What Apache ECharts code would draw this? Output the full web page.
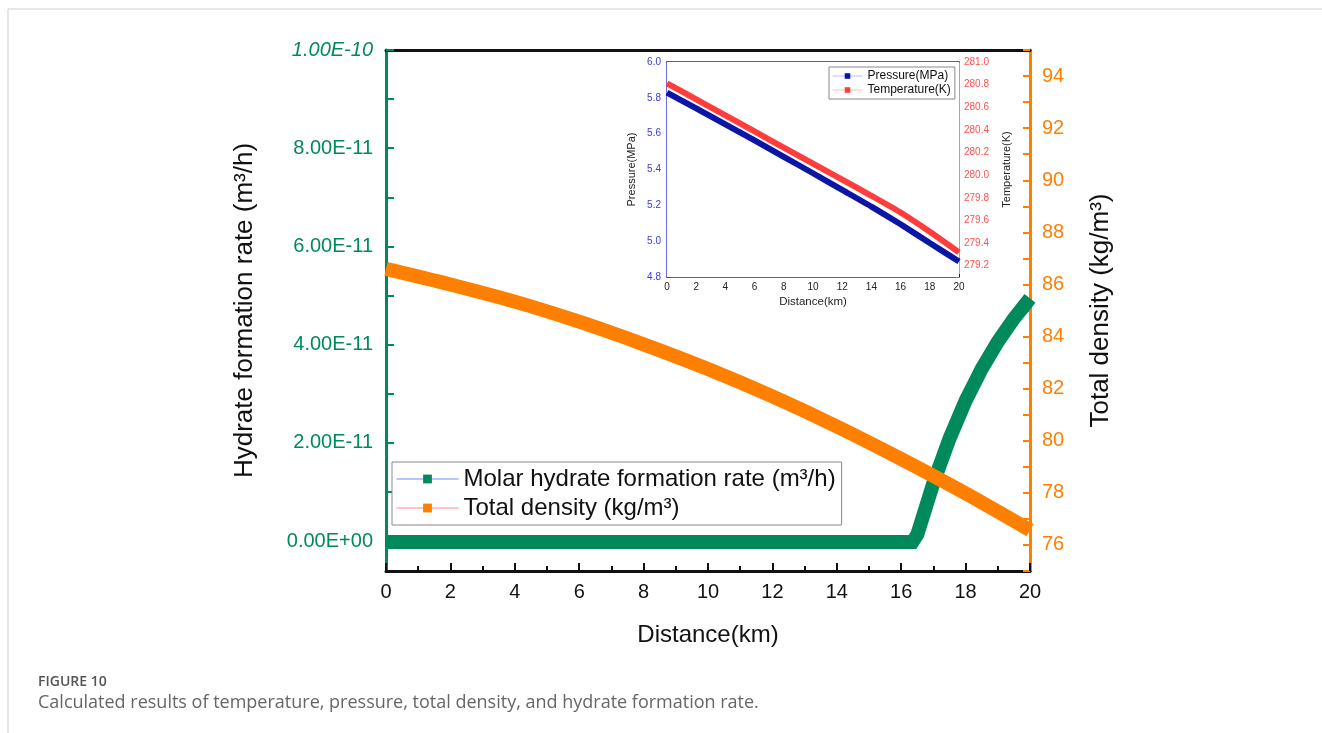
<!DOCTYPE html>
<html>
<head>
<meta charset="utf-8">
<script src="https://cdn.jsdelivr.net/npm/echarts@6/dist/echarts.min.js"></script>
<style>
  html, body { margin: 0; padding: 0; background: #fff; }
  #chart { width: 1322px; height: 733px; }
</style>
</head>
<body>
<div id="chart"></div>
<script>
var chartDom = document.getElementById('chart');
var myChart = echarts.init(chartDom);
var option;

// main chart: hydrate formation rate (m3/h) vs distance (km)
let rateDistance = [0, 16.35, 16.5, 17, 17.5, 18, 18.5, 19, 19.5, 20];
let rateValues = [0, 0, 0.15e-11, 1.2e-11, 2.1e-11, 2.87e-11, 3.52e-11, 4.07e-11, 4.54e-11, 4.95e-11];

// main chart: total density (kg/m3)
let densityDistance = [0, 2, 4, 6, 8, 10, 12, 14, 16, 18, 20];
let densityValues = [86.6, 86.0, 85.34, 84.57, 83.7, 82.75, 81.7, 80.55, 79.3, 77.98, 76.57];

// inset: pressure (MPa) and temperature (K)
let insetDistance = [0, 2, 4, 6, 8, 10, 12, 14, 16, 18, 20];
let pressureValues = [5.829, 5.741, 5.652, 5.562, 5.471, 5.379, 5.286, 5.193, 5.094, 4.99, 4.886];
let temperatureValues = [280.811, 280.67, 280.528, 280.386, 280.244, 280.102, 279.96, 279.818, 279.67, 279.5, 279.318];

let rateTickLabels = ['0.00E+00', '2.00E-11', '4.00E-11', '6.00E-11', '8.00E-11', '1.00E-10'];

function pairs(xs, ys) {
  return xs.map(function (x, i) { return [x, ys[i]]; });
}

const GREEN = '#008a5c';
const ORANGE = '#ff7f00';
const BLUE = '#0b16a6';
const RED = '#ff3d3d';
const FONT = 'Liberation Sans, Arial, sans-serif';

option = {
  backgroundColor: '#fff',
  animation: false,
  textStyle: { fontFamily: FONT },
  grid: [
    { left: 386, right: 292, top: 50, bottom: 162 },
    { left: 386, right: 292, top: 50, bottom: 192 },
    { left: 667, right: 363, top: 62, bottom: 456, show: true, backgroundColor: '#fff', borderWidth: 0, z: 5 }
  ],
  legend: [
    {
      orient: 'vertical', left: 392, top: 462, padding: [5, 6, 5, 4], itemGap: 5,
      itemWidth: 62, itemHeight: 11,
      borderColor: '#888', borderWidth: 1, backgroundColor: '#fff',
      textStyle: { fontSize: 24, color: '#111', fontFamily: FONT },
      data: [
        { name: 'Molar hydrate formation rate (m³/h)', itemStyle: { color: GREEN }, lineStyle: { color: '#6f8cff', width: 1 } },
        { name: 'Total density (kg/m³)', itemStyle: { color: ORANGE }, lineStyle: { color: '#ff8a8a', width: 1 } }
      ]
    },
    {
      orient: 'vertical', left: 829, top: 67, padding: [3, 4, 3, 3], itemGap: 2,
      itemWidth: 30, itemHeight: 7, z: 10,
      borderColor: '#888', borderWidth: 1, backgroundColor: '#fff',
      textStyle: { fontSize: 12, color: '#111', fontFamily: FONT },
      data: [
        { name: 'Pressure(MPa)', itemStyle: { color: BLUE }, lineStyle: { color: '#b4c2ff', width: 1 } },
        { name: 'Temperature(K)', itemStyle: { color: RED }, lineStyle: { color: '#ffbcbc', width: 1 } }
      ]
    }
  ],
  xAxis: [
    {
      type: 'value', gridIndex: 0, min: 0, max: 20, interval: 2,
      name: 'Distance(km)', nameLocation: 'middle', nameGap: 52,
      nameTextStyle: { fontSize: 24, color: '#111', fontFamily: FONT },
      axisLine: { onZero: false, lineStyle: { color: '#111', width: 3 } },
      axisTick: { inside: true, length: 8, lineStyle: { color: '#111', width: 2 } },
      minorTick: { show: true, splitNumber: 2, length: 5, lineStyle: { color: '#111', width: 2 } },
      axisLabel: { fontSize: 20, color: '#111', margin: 11 },
      splitLine: { show: false }
    },
    {
      type: 'value', gridIndex: 0, position: 'top', min: 0, max: 20,
      axisLine: { onZero: false, lineStyle: { color: '#111', width: 3 } },
      axisTick: { show: false }, axisLabel: { show: false }, splitLine: { show: false }
    },
    {
      type: 'value', gridIndex: 1, min: 0, max: 20, show: false
    },
    {
      type: 'value', gridIndex: 2, min: 0, max: 20, interval: 2,
      name: 'Distance(km)', nameLocation: 'middle', nameGap: 19,
      nameTextStyle: { fontSize: 11.5, color: '#222', fontFamily: FONT },
      axisLine: { onZero: false, lineStyle: { color: '#1a2a9a', width: 1.5 } },
      axisTick: { inside: true, length: 3, lineStyle: { color: '#222' } },
      minorTick: { show: true, splitNumber: 2, length: 2, lineStyle: { color: '#222' } },
      axisLabel: { fontSize: 10, color: '#222', margin: 5 },
      splitLine: { show: false }
    },
    {
      type: 'value', gridIndex: 2, position: 'top', min: 0, max: 20,
      axisLine: { onZero: false, lineStyle: { color: '#333', width: 1.5 } },
      axisTick: { show: false }, axisLabel: { show: false }, splitLine: { show: false }
    }
  ],
  yAxis: [
    {
      type: 'value', gridIndex: 0, min: -5.9e-12, max: 1e-10,
      name: 'Hydrate formation rate (m³/h)', nameLocation: 'middle', nameGap: 128, nameRotate: 90,
      nameTextStyle: { fontSize: 26, color: '#111', fontFamily: FONT },
      axisLine: { onZero: false, lineStyle: { color: GREEN, width: 3 } },
      axisTick: { show: false }, axisLabel: { show: false }, splitLine: { show: false }
    },
    {
      type: 'value', gridIndex: 0, position: 'right', min: 75, max: 95, interval: 1,
      name: 'Total density (kg/m³)', nameLocation: 'middle', nameGap: 58, nameRotate: 90,
      nameTextStyle: { fontSize: 26, color: '#111', fontFamily: FONT },
      axisLine: { onZero: false, lineStyle: { color: ORANGE, width: 3 } },
      axisTick: { inside: true, length: 7, lineStyle: { color: ORANGE, width: 2 } },
      axisLabel: {
        fontSize: 20, color: ORANGE, margin: 12,
        formatter: function (v) { return Math.round(v) % 2 === 0 ? String(Math.round(v)) : ''; }
      },
      splitLine: { show: false }
    },
    {
      type: 'value', gridIndex: 1, min: 0, max: 1e-10, interval: 2e-11,
      axisLine: { show: false },
      axisTick: { inside: true, length: 8, lineStyle: { color: GREEN, width: 2 } },
      minorTick: { show: true, splitNumber: 2, length: 8, lineStyle: { color: GREEN, width: 2 } },
      axisLabel: {
        fontSize: 20, color: GREEN, margin: 13,
        formatter: function (v) {
          let i = Math.round(v / 2e-11);
          return i === 5 ? '{it|' + rateTickLabels[i] + '}' : rateTickLabels[i];
        },
        rich: { it: { fontSize: 20, color: GREEN, fontStyle: 'italic', fontFamily: FONT } }
      },
      splitLine: { show: false }
    },
    {
      type: 'value', gridIndex: 2, min: 4.8, max: 6.0, interval: 0.2,
      name: 'Pressure(MPa)', nameLocation: 'middle', nameGap: 30, nameRotate: 90,
      nameTextStyle: { fontSize: 11, color: '#222', fontFamily: FONT },
      axisLine: { onZero: false, lineStyle: { color: '#3a3ad6', width: 1.5 } },
      axisTick: { inside: true, length: 3, lineStyle: { color: '#3a3ad6' } },
      minorTick: { show: true, splitNumber: 2, length: 2, lineStyle: { color: '#3a3ad6' } },
      axisLabel: { fontSize: 10, color: '#3a3ad6', margin: 6, formatter: function (v) { return v.toFixed(1); } },
      splitLine: { show: false }
    },
    {
      type: 'value', gridIndex: 2, position: 'right', min: 279.1, max: 281.0, interval: 0.1,
      name: 'Temperature(K)', nameLocation: 'middle', nameGap: 42, nameRotate: 90,
      nameTextStyle: { fontSize: 11, color: '#222', fontFamily: FONT },
      axisLine: { onZero: false, lineStyle: { color: '#ff5a5a', width: 1.5 } },
      axisTick: { inside: true, length: 3, lineStyle: { color: '#ff5a5a' } },
      axisLabel: {
        fontSize: 10, color: '#ff5050', margin: 5,
        formatter: function (v) { return Math.round(v * 10) % 2 === 0 ? v.toFixed(1) : ''; }
      },
      splitLine: { show: false }
    }
  ],
  series: [
    {
      name: 'Molar hydrate formation rate (m³/h)', type: 'line', xAxisIndex: 0, yAxisIndex: 0,
      data: pairs(rateDistance, rateValues), symbol: 'rect', symbolSize: 11, showSymbol: false,
      lineStyle: { color: GREEN, width: 14, join: 'miter' }, itemStyle: { color: GREEN }, z: 2
    },
    {
      name: 'Total density (kg/m³)', type: 'line', xAxisIndex: 0, yAxisIndex: 1,
      data: pairs(densityDistance, densityValues), symbol: 'rect', symbolSize: 11, showSymbol: false, smooth: 0.3,
      lineStyle: { color: ORANGE, width: 14 }, itemStyle: { color: ORANGE }, z: 3
    },
    {
      name: 'Pressure(MPa)', type: 'line', xAxisIndex: 3, yAxisIndex: 3,
      data: pairs(insetDistance, pressureValues), symbol: 'rect', symbolSize: 7, showSymbol: false, smooth: 0.2,
      lineStyle: { color: BLUE, width: 6 }, itemStyle: { color: BLUE }, z: 6
    },
    {
      name: 'Temperature(K)', type: 'line', xAxisIndex: 3, yAxisIndex: 4,
      data: pairs(insetDistance, temperatureValues), symbol: 'rect', symbolSize: 7, showSymbol: false, smooth: 0.2,
      lineStyle: { color: RED, width: 6 }, itemStyle: { color: RED }, z: 6
    }
  ],
  graphic: [
    { type: 'line', shape: { x1: 8, y1: 9, x2: 1322, y2: 9 }, style: { stroke: '#cfcfcf', lineWidth: 1 } },
    { type: 'line', shape: { x1: 8, y1: 9, x2: 8, y2: 733 }, style: { stroke: '#cfcfcf', lineWidth: 1 } },
    { type: 'text', left: 38, top: 675, style: { text: 'FIGURE 10', fontSize: 14, fontWeight: 600, fill: '#555', fontFamily: 'Open Sans, sans-serif' } },
    { type: 'text', left: 38, top: 694, style: { text: 'Calculated results of temperature, pressure, total density, and hydrate formation rate.', fontSize: 18, fill: '#666', fontFamily: 'Open Sans, sans-serif' } }
  ]
};

option && myChart.setOption(option);
</script>
</body>
</html>
